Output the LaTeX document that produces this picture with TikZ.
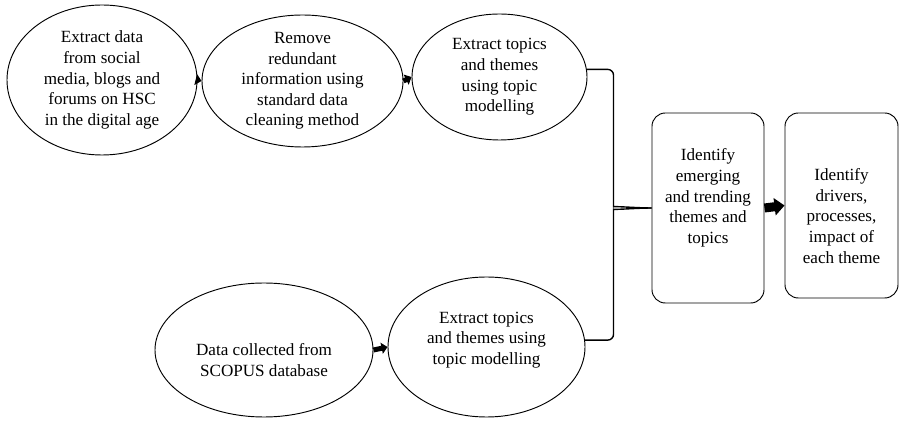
\documentclass[tikz,border=0pt]{standalone}
\usepackage{fontspec}
\setmainfont{Liberation Serif}
\usetikzlibrary{arrows.meta,calc,shapes.geometric}

\begin{document}
\begin{tikzpicture}[x=0.03cm,y=0.03cm,
        oval/.style={ellipse,draw,line width=0.8pt,inner sep=0pt},
        stage/.style={rectangle,draw,line width=0.8pt,rounded corners=0.4cm,inner sep=0pt},
        txt/.style={align=center,inner sep=0pt,font=\fontsize{14.6}{17.6}\selectfont},
        flow/.style={-{Triangle[length=0.18cm,width=0.33cm]},line width=0.15cm},
        bigflow/.style={-{Triangle[length=0.3cm,width=0.51cm]},line width=0.27cm},
        brace/.style={line width=1.2pt}
    ]
    \useasboundingbox (0,0) rectangle (899,421);

    % --- Upper stream ---
    \node[oval,minimum width=5.7cm,minimum height=4.5cm] (E1) at (102,341) {};
    \node[txt] (E1t) at (E1) {Extract data\\from social\\media, blogs and\\forums on HSC\\in the digital age};
    \node[oval,minimum width=6.03cm,minimum height=3.96cm] (E2) at (302.5,340) {};
    \node[txt] (E2t) at (E2) {Remove\\redundant\\information using\\standard data\\cleaning method};
    \node[oval,minimum width=5.25cm,minimum height=3.78cm] (E3) at (499.5,344) {};
    \node[txt] (E3t) at (E3) {Extract topics\\and themes\\using topic\\modelling};

    % --- Lower stream ---
    \node[oval,minimum width=6.54cm,minimum height=4.02cm] (E4) at (264,71) {};
    \node[txt] (E4t) at ($(E4)+(0,-10)$) {Data collected from\\SCOPUS database};
    \node[oval,minimum width=5.91cm,minimum height=4.2cm] (E5) at (486.5,74) {};
    \node[txt] (E5t) at ($(E5)+(0,7)$) {Extract topics\\and themes using\\topic modelling};

    % --- Boxes ---
    \node[stage,minimum width=3.36cm,minimum height=5.7cm] (B1) at (708,213) {};
    \node[txt] (B1t) at ($(B1)+(0,10)$) {Identify\\emerging\\and trending\\themes and\\topics};
    \node[stage,minimum width=3.39cm,minimum height=5.55cm] (B2) at (841.5,215.5) {};
    \node[txt] (B2t) at ($(B2)+(0,-10.5)$) {Identify\\drivers,\\processes,\\impact of\\each theme};

    % --- Arrows ---
    \draw[flow] (E1.east) -- (E2.west);
    \draw[flow] (E2.east) -- (E3.west);
    \draw[flow] (E4.east) -- (E5.west);
    \draw[bigflow] (B1.east) -- (B2.west);

    % --- Brace joining both streams ---
    \draw[brace] (E3.5) [rounded corners=5] -| ($(B1.west)+(-38,7)$) [sharp corners] .. controls +(0,-5) and +(-14,0) .. (B1.west);
    \draw[brace] (E5.4) [rounded corners=5] -| ($(B1.west)+(-38,-7)$) [sharp corners] .. controls +(0,5) and +(-14,0) .. (B1.west);

\end{tikzpicture}
\end{document}
